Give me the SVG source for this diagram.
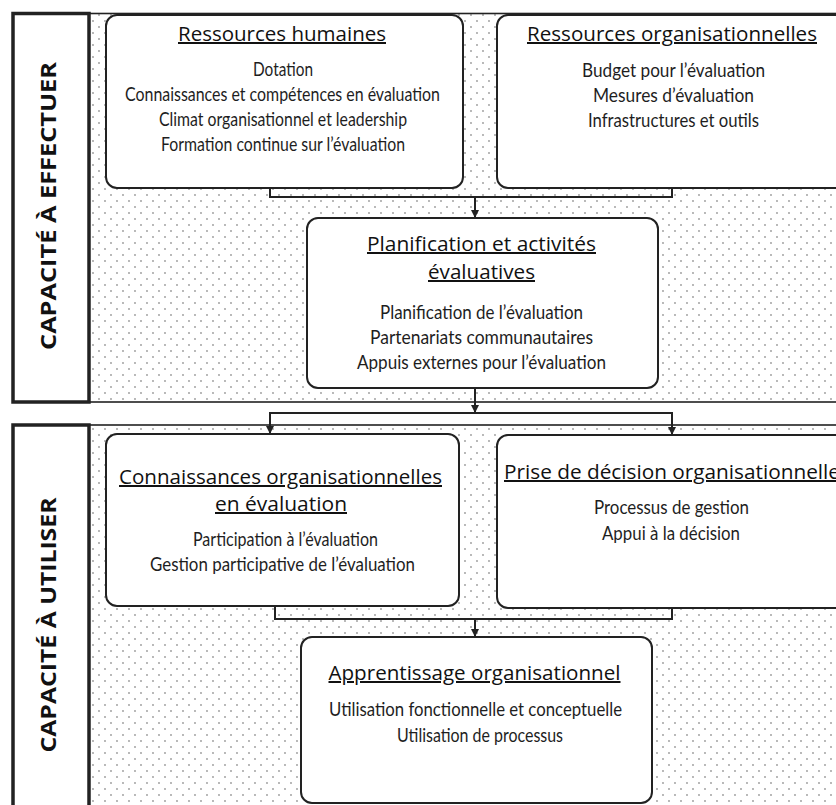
<svg xmlns="http://www.w3.org/2000/svg" width="836" height="805" viewBox="0 0 836 805">
<style>
.lbl{fill:#fff;stroke:#222;stroke-width:3.5}
.area{fill:url(#dots);stroke:#222;stroke-width:1.6}
.box{fill:#fff;stroke:#222;stroke-width:2}
.side{font-family:"Open Sans","Liberation Sans",sans-serif;font-weight:bold;font-size:21px;fill:#111;text-anchor:middle}
.ttl{font-family:"Open Sans","Liberation Sans",sans-serif;font-size:20px;font-weight:500;fill:#111;text-anchor:middle;text-decoration:underline}
.txt{font-family:Lato,"Liberation Sans",sans-serif;font-size:19px;fill:#1e1e1e;text-anchor:middle}
.con{fill:none;stroke:#222;stroke-width:2}
</style>
<defs>
<pattern id="dots" patternUnits="userSpaceOnUse" width="12" height="12">
<rect width="12" height="12" fill="#fff"/>
<circle cx="3" cy="3" r="0.9" fill="#999"/>
<circle cx="9" cy="9" r="0.9" fill="#999"/>
</pattern>
<marker id="arr" markerWidth="8" markerHeight="8" refX="7" refY="4" orient="auto" markerUnits="userSpaceOnUse">
<path d="M0,0 L8,4 L0,8 Z" fill="#222"/>
</marker>
</defs>
<rect width="836" height="805" fill="#fff"/>

<g id="section-effectuer">
<rect class="area" x="89" y="13.5" width="760" height="388.5"/>
<rect class="lbl" x="13" y="13.5" width="76" height="388.5"/>
<text class="side" transform="translate(56,206) rotate(-90)" textLength="288" lengthAdjust="spacingAndGlyphs">CAPACITÉ À EFFECTUER</text>
</g>

<g id="section-utiliser">
<rect class="area" x="89" y="425" width="760" height="400"/>
<rect class="lbl" x="13" y="425" width="76" height="400"/>
<text class="side" transform="translate(56,625) rotate(-90)" textLength="255" lengthAdjust="spacingAndGlyphs">CAPACITÉ À UTILISER</text>
</g>

<g id="connectors">
<path class="con" d="M270,188 V197 H672 V188"/>
<path class="con" d="M475,197 V217" marker-end="url(#arr)"/>
<path class="con" d="M475,388 V412" marker-end="url(#arr)"/>
<path class="con" d="M270,433 V413 H672 V433"/>
<path class="con" d="M270,420 V433" marker-end="url(#arr)"/>
<path class="con" d="M672,420 V434" marker-end="url(#arr)"/>
<path class="con" d="M275,606 V619 H672 V608"/>
<path class="con" d="M475,619 V636" marker-end="url(#arr)"/>
</g>

<g id="ressources-humaines">
<rect class="box" x="106" y="15" width="357" height="173" rx="11"/>
<text class="ttl" x="282" y="41" textLength="208" lengthAdjust="spacingAndGlyphs">Ressources humaines</text>
<text class="txt" x="283" y="76" textLength="60" lengthAdjust="spacingAndGlyphs">Dotation</text>
<text class="txt" x="282.5" y="101" textLength="315" lengthAdjust="spacingAndGlyphs">Connaissances et compétences en évaluation</text>
<text class="txt" x="283" y="126" textLength="248" lengthAdjust="spacingAndGlyphs">Climat organisationnel et leadership</text>
<text class="txt" x="283" y="151" textLength="244" lengthAdjust="spacingAndGlyphs">Formation continue sur l’évaluation</text>
</g>

<g id="ressources-organisationnelles">
<rect class="box" x="497" y="15" width="352" height="173" rx="11"/>
<text class="ttl" x="672" y="41" textLength="290" lengthAdjust="spacingAndGlyphs">Ressources organisationnelles</text>
<text class="txt" x="673.5" y="77" textLength="183" lengthAdjust="spacingAndGlyphs">Budget pour l’évaluation</text>
<text class="txt" x="673.5" y="102" textLength="161" lengthAdjust="spacingAndGlyphs">Mesures d’évaluation</text>
<text class="txt" x="673.5" y="127" textLength="171" lengthAdjust="spacingAndGlyphs">Infrastructures et outils</text>
</g>

<g id="planification">
<rect class="box" x="307" y="218" width="351" height="170" rx="11"/>
<text class="ttl" x="481.5" y="251" textLength="229" lengthAdjust="spacingAndGlyphs">Planification et activités</text>
<text class="ttl" x="481.5" y="279" textLength="107" lengthAdjust="spacingAndGlyphs">évaluatives</text>
<text class="txt" x="481.5" y="319" textLength="203" lengthAdjust="spacingAndGlyphs">Planification de l’évaluation</text>
<text class="txt" x="481.5" y="344" textLength="223" lengthAdjust="spacingAndGlyphs">Partenariats communautaires</text>
<text class="txt" x="481.5" y="369" textLength="249" lengthAdjust="spacingAndGlyphs">Appuis externes pour l’évaluation</text>
</g>

<g id="connaissances">
<rect class="box" x="106" y="434" width="353" height="172" rx="11"/>
<text class="ttl" x="280.5" y="484" textLength="323" lengthAdjust="spacingAndGlyphs">Connaissances organisationnelles</text>
<text class="ttl" x="281" y="511" textLength="132" lengthAdjust="spacingAndGlyphs">en évaluation</text>
<text class="txt" x="285.5" y="546" textLength="185" lengthAdjust="spacingAndGlyphs">Participation à l’évaluation</text>
<text class="txt" x="282.5" y="571" textLength="265" lengthAdjust="spacingAndGlyphs">Gestion participative de l’évaluation</text>
</g>

<g id="prise-de-decision">
<rect class="box" x="497" y="435" width="352" height="173" rx="11"/>
<text class="ttl" x="672" y="479" textLength="336" lengthAdjust="spacingAndGlyphs">Prise de décision organisationnelle</text>
<text class="txt" x="671.5" y="514" textLength="155" lengthAdjust="spacingAndGlyphs">Processus de gestion</text>
<text class="txt" x="671" y="540" textLength="138" lengthAdjust="spacingAndGlyphs">Appui à la décision</text>
</g>

<g id="apprentissage">
<rect class="box" x="301" y="637" width="351" height="166" rx="11"/>
<text class="ttl" x="474.5" y="680" textLength="292" lengthAdjust="spacingAndGlyphs">Apprentissage organisationnel</text>
<text class="txt" x="475.5" y="716" textLength="293" lengthAdjust="spacingAndGlyphs">Utilisation fonctionnelle et conceptuelle</text>
<text class="txt" x="480" y="742" textLength="166" lengthAdjust="spacingAndGlyphs">Utilisation de processus</text>
</g>
</svg>
